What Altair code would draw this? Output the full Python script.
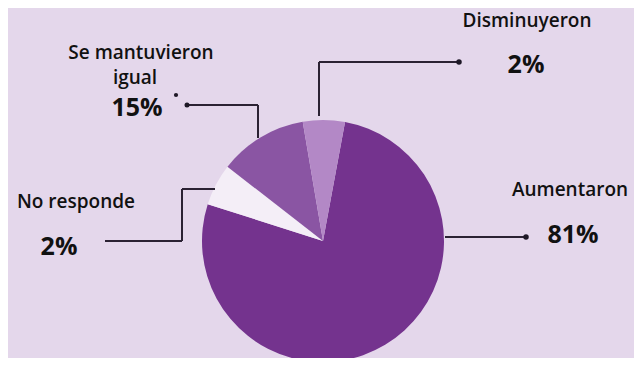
import math
import altair as alt
import pandas as pd

# ---- data ----
categories = ["Aumentaron", "No responde", "Se mantuvieron igual", "Disminuyeron"]
pct_labels = ["81%", "2%", "15%", "2%"]
# slice sizes as drawn in the picture (share of the circle, %)
slice_sizes = [77.0, 5.6, 11.8, 5.6]
slice_colors = ["#74338E", "#F4EEF7", "#8A55A3", "#B388C6"]

# ---- layout (chart pixel coordinates) ----
W, H = 626, 350
CX, CY, R = 315, 233, 121
START_DEG = 10.5

# label text lines: (text, x, y baseline)
name_lines = [
    ("Aumentaron", 562, 188),
    ("No responde", 68, 200),
    ("Se mantuvieron", 133, 51),
    ("igual", 127, 76),
    ("Disminuyeron", 519, 19),
]
pct_pos = [(565, 235), (51, 247), (129, 108), (518, 65)]

# leader line segments (x, y, x2, y2)
segments = [
    (437, 229, 518, 229),          # Aumentaron
    (207, 181, 174, 181),          # No responde
    (174, 181, 174, 233),
    (174, 233, 97, 233),
    (250, 130, 250, 97),           # Se mantuvieron
    (250, 97, 179, 97),
    (311, 108, 311, 54),           # Disminuyeron
    (311, 54, 451, 54),
]
dots = [(518, 229, 30), (179, 97, 25), (168, 87, 18), (451, 54, 30)]

pie_df = pd.DataFrame({
    "category": categories,
    "value": slice_sizes,
    "order": list(range(len(categories))),
})

name_df = pd.DataFrame([{"t": t, "x": x, "y": y} for t, x, y in name_lines])
pct_df = pd.DataFrame([{"t": p, "x": x, "y": y} for p, (x, y) in zip(pct_labels, pct_pos)])

seg_df = pd.DataFrame(segments, columns=["x", "y", "x2", "y2"])
dot_df = pd.DataFrame(dots, columns=["x", "y", "s"])

xs = alt.Scale(domain=[0, W], range=[0, W], nice=False, zero=False)
ys = alt.Scale(domain=[0, H], range=[0, H], nice=False, zero=False)

start = math.radians(START_DEG)
pie = alt.Chart(pie_df).mark_arc(radius=R, stroke=None).encode(
    theta=alt.Theta("value:Q", stack=True,
                    scale=alt.Scale(type="linear", range=[start, start + 2 * math.pi])),
    order=alt.Order("order:Q"),
    color=alt.Color("category:N", legend=None,
                    scale=alt.Scale(domain=categories, range=slice_colors)),
    x=alt.value(CX),
    y=alt.value(CY),
)

lines = alt.Chart(seg_df).mark_rule(color="#2B2233", strokeWidth=2).encode(
    x=alt.X("x:Q", scale=xs, axis=None),
    y=alt.Y("y:Q", scale=ys, axis=None),
    x2="x2:Q",
    y2="y2:Q",
)

points = alt.Chart(dot_df).mark_circle(color="#1E1826", opacity=1).encode(
    x=alt.X("x:Q", scale=xs, axis=None),
    y=alt.Y("y:Q", scale=ys, axis=None),
    size=alt.Size("s:Q", scale=None, legend=None),
)

names = alt.Chart(name_df).mark_text(
    font="Open Sans", fontWeight=600, fontSize=19, color="#111111",
    align="center", baseline="alphabetic",
).encode(
    x=alt.X("x:Q", scale=xs, axis=None),
    y=alt.Y("y:Q", scale=ys, axis=None),
    text="t:N",
)

pcts = alt.Chart(pct_df).mark_text(
    font="Open Sans", fontWeight="bold", fontSize=25, color="#111111",
    align="center", baseline="alphabetic",
).encode(
    x=alt.X("x:Q", scale=xs, axis=None),
    y=alt.Y("y:Q", scale=ys, axis=None),
    text="t:N",
)

chart = alt.layer(pie, lines, points, names, pcts).properties(
    width=W, height=H,
    autosize=alt.AutoSizeParams(type="none"),
    padding=0,
    background="#E4D7EB",
).configure_view(stroke=None)

chart.save("out.html", embed_options={"renderer": "svg", "actions": False})
